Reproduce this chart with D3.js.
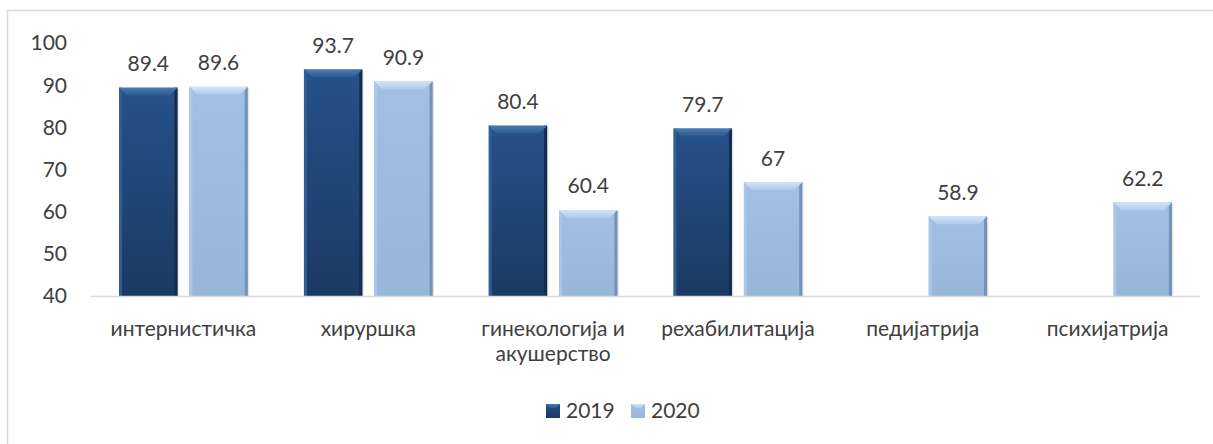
<!DOCTYPE html>
<html>
<head>
<meta charset="utf-8">
<script src="https://cdn.jsdelivr.net/npm/d3@7"></script>
<style>
  body { margin: 0; background: #fff; }
  svg { display: block; font-family: Lato, "Open Sans", sans-serif; }
</style>
</head>
<body>
<svg id="chart"></svg>
<script>
const categories = ["интернистичка", "хируршка", "гинекологија и\nакушерство", "рехабилитација", "педијатрија", "психијатрија"];
const series = ["2019", "2020"];
const values2019 = [89.4, 93.7, 80.4, 79.7, null, null];
const values2020 = [89.6, 90.9, 60.4, 67, 58.9, 62.2];
const yTicks = [40, 50, 60, 70, 80, 90, 100];

const width = 1213, height = 444;
const textColor = "#404040";
const fontSize = 21;

const svg = d3.select("#chart")
    .attr("width", width)
    .attr("height", height);

// outer chart border (only top + left fall inside the picture)
svg.append("rect")
    .attr("x", 7.5).attr("y", 10.5)
    .attr("width", width + 20).attr("height", height + 20)
    .attr("fill", "none")
    .attr("stroke", "#d9d9d9")
    .attr("stroke-width", 1.5);

const x0 = d3.scaleBand().domain(categories).range([91, 1200]);
const x1 = d3.scaleBand().domain(series).range([0, x0.bandwidth()]).paddingInner(0.17).paddingOuter(0.4);
const y = d3.scaleLinear().domain([40, 100]).range([296, 43]);

const colors = {
    "2019": { top1: "#4a7ab4", top2: "#2a5890", body1: "#26518a", body2: "#1b3a62", left: "#305d96", right: "#142d4e" },
    "2020": { top1: "#d2e4f7", top2: "#afcaeb", body1: "#a2bfe4", body2: "#98b5da", left: "#aac6e8", right: "#7591b8" }
};

const defs = svg.append("defs");
series.forEach(s => {
    const g = defs.append("linearGradient")
        .attr("id", "grad" + s)
        .attr("x1", 0).attr("y1", 0).attr("x2", 0).attr("y2", 1);
    g.append("stop").attr("offset", "0%").attr("stop-color", colors[s].body1);
    g.append("stop").attr("offset", "100%").attr("stop-color", colors[s].body2);
    const t = defs.append("linearGradient")
        .attr("id", "top" + s)
        .attr("x1", 0).attr("y1", 0).attr("x2", 0).attr("y2", 1);
    t.append("stop").attr("offset", "0%").attr("stop-color", colors[s].top1);
    t.append("stop").attr("offset", "100%").attr("stop-color", colors[s].top2);
});

// y tick labels
svg.append("g")
    .selectAll("text")
    .data(yTicks)
    .join("text")
    .attr("x", 67)
    .attr("y", d => y(d))
    .attr("dy", "0.35em")
    .attr("text-anchor", "end")
    .attr("fill", textColor)
    .attr("font-size", fontSize)
    .text(d => d);

// bars
const bars = [];
categories.forEach((c, i) => {
    bars.push({ cat: c, s: "2019", v: values2019[i] });
    bars.push({ cat: c, s: "2020", v: values2020[i] });
});
const barData = bars.filter(d => d.v != null);

const bw = x1.bandwidth();
const bevel = 8, side = 3;

const barG = svg.append("g")
    .selectAll("g")
    .data(barData)
    .join("g")
    .attr("transform", d => `translate(${x0(d.cat) + x1(d.s)},${y(d.v)})`);

// soft shadow
barG.append("rect")
    .attr("x", 1.5).attr("y", 1)
    .attr("width", bw).attr("height", d => y(40) - y(d.v))
    .attr("fill", "#000").attr("opacity", 0.1);

barG.append("rect")
    .attr("width", bw).attr("height", d => y(40) - y(d.v))
    .attr("fill", d => `url(#grad${d.s})`);

// left and right edges
barG.append("rect")
    .attr("width", side).attr("height", d => y(40) - y(d.v))
    .attr("fill", d => colors[d.s].left);
barG.append("rect")
    .attr("x", bw - side)
    .attr("width", side).attr("height", d => y(40) - y(d.v))
    .attr("fill", d => colors[d.s].right);

// top bevel
barG.append("path")
    .attr("fill", d => `url(#top${d.s})`)
    .attr("d", `M0,0 L${bw},0 L${bw - bevel},${bevel} L${bevel},${bevel} Z`);

// data labels
barG.append("text")
    .attr("x", bw / 2)
    .attr("y", -24)
    .attr("dy", "0.35em")
    .attr("text-anchor", "middle")
    .attr("fill", textColor)
    .attr("font-size", fontSize)
    .text(d => d.v);

// x axis line
svg.append("line")
    .attr("x1", x0.range()[0]).attr("x2", x0.range()[1])
    .attr("y1", y(40) + 0.5).attr("y2", y(40) + 0.5)
    .attr("stroke", "#d9d9d9")
    .attr("stroke-width", 1.5);

// category labels
const catLabels = svg.append("g")
    .selectAll("text")
    .data(categories)
    .join("text")
    .attr("x", d => x0(d) + x0.bandwidth() / 2)
    .attr("y", 336)
    .attr("text-anchor", "middle")
    .attr("fill", textColor)
    .attr("font-size", fontSize);

catLabels.each(function(d) {
    const el = d3.select(this);
    d.split("\n").forEach((line, i) => {
        el.append("tspan")
            .attr("x", x0(d) + x0.bandwidth() / 2)
            .attr("dy", i === 0 ? 0 : 25)
            .text(line);
    });
});

// legend
const legendX = [546, 631];
const legend = svg.append("g")
    .selectAll("g")
    .data(series)
    .join("g")
    .attr("transform", (d, i) => `translate(${legendX[i]},404)`);

legend.append("rect")
    .attr("width", 14).attr("height", 14)
    .attr("fill", d => `url(#grad${d})`);
legend.append("path")
    .attr("fill", d => `url(#top${d})`)
    .attr("d", "M0,0 L14,0 L10,4 L4,4 Z");

legend.append("text")
    .attr("x", 20)
    .attr("y", 7)
    .attr("dy", "0.35em")
    .attr("fill", textColor)
    .attr("font-size", fontSize)
    .text(d => d);
</script>
</body>
</html>
